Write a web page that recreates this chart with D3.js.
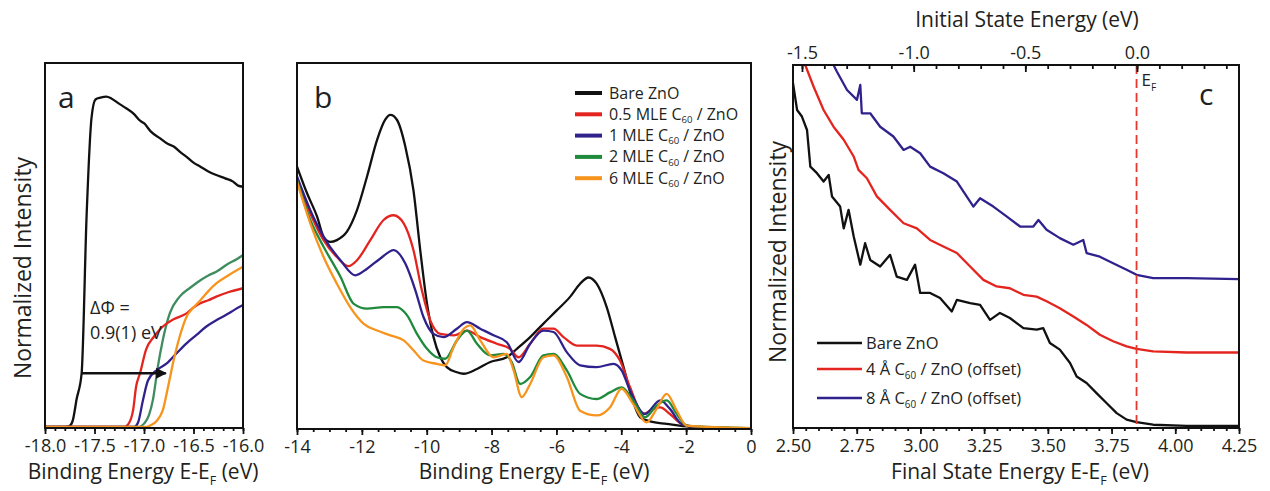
<!DOCTYPE html>
<html>
<head>
<meta charset="utf-8">
<script src="https://cdn.jsdelivr.net/npm/d3@7"></script>
<style>
  body { margin: 0; background: #fff; }
  text { font-family: "Open Sans", "Noto Sans", sans-serif; fill: #231f20; }
</style>
</head>
<body>
<svg id="chart"></svg>
<script>
// Overall size
const width = 1270;
const height = 491;

// ---------- data: panel a (secondary electron cutoff) ----------
const aBare = [[-18, 0.003], [-17.8, 0.003], [-17.75, 0.006], [-17.72, 0.02], [-17.68, 0.08], [-17.63, 0.15],
  [-17.58, 0.58], [-17.53, 0.85], [-17.49, 0.9], [-17.44, 0.905], [-17.38, 0.908], [-17.33, 0.903],
  [-17.26, 0.89], [-17.18, 0.876], [-17.1, 0.86], [-17.04, 0.842], [-17.0, 0.835], [-16.93, 0.812],
  [-16.84, 0.794], [-16.77, 0.78], [-16.7, 0.771], [-16.63, 0.755], [-16.57, 0.743], [-16.5, 0.727],
  [-16.43, 0.716], [-16.35, 0.703], [-16.27, 0.693], [-16.18, 0.684], [-16.1, 0.675], [-16.05, 0.664], [-16.0, 0.661]];
const aRed = [[-18, 0.003], [-17.2, 0.003], [-17.16, 0.01], [-17.11, 0.049], [-17.08, 0.113], [-17.04, 0.15],
  [-16.98, 0.214], [-16.9, 0.25], [-16.81, 0.278], [-16.7, 0.298], [-16.57, 0.314], [-16.5, 0.33],
  [-16.43, 0.342], [-16.35, 0.35], [-16.27, 0.36], [-16.15, 0.372], [-16.0, 0.383]];
const aBlue = [[-18, 0.003], [-17.1, 0.003], [-17.06, 0.015], [-17.01, 0.077], [-16.96, 0.13], [-16.87, 0.159],
  [-16.77, 0.177], [-16.67, 0.205], [-16.57, 0.232], [-16.47, 0.255], [-16.37, 0.278], [-16.27, 0.295],
  [-16.17, 0.31], [-16.08, 0.325], [-16.0, 0.337]];
const aGreen = [[-18, 0.003], [-17.05, 0.003], [-17.0, 0.012], [-16.95, 0.035], [-16.91, 0.077], [-16.86, 0.168],
  [-16.81, 0.241], [-16.74, 0.314], [-16.64, 0.36], [-16.53, 0.385], [-16.43, 0.405], [-16.35, 0.418],
  [-16.27, 0.428], [-16.15, 0.45], [-16.06, 0.463], [-16.0, 0.474]];
const aOrange = [[-18, 0.003], [-16.98, 0.003], [-16.93, 0.008], [-16.87, 0.02], [-16.81, 0.049], [-16.75, 0.122],
  [-16.7, 0.186], [-16.64, 0.25], [-16.57, 0.305], [-16.5, 0.33], [-16.43, 0.35], [-16.35, 0.375],
  [-16.27, 0.396], [-16.15, 0.418], [-16.0, 0.442]];

// ---------- data: panel b (valence band spectra) ----------
const bBare = [[-14, 0.717], [-13.69, 0.644], [-13.38, 0.58], [-13.18, 0.525], [-12.97, 0.511], [-12.77, 0.516],
  [-12.46, 0.539], [-12.15, 0.598], [-11.84, 0.69], [-11.53, 0.79], [-11.28, 0.845], [-11.12, 0.858],
  [-10.92, 0.845], [-10.66, 0.772], [-10.41, 0.653], [-10.2, 0.489], [-9.99, 0.342], [-9.79, 0.251],
  [-9.58, 0.196], [-9.38, 0.169], [-9.07, 0.155], [-8.86, 0.151], [-8.45, 0.164], [-8.04, 0.183],
  [-7.53, 0.196], [-7.22, 0.219], [-6.81, 0.251], [-6.4, 0.288], [-5.99, 0.324], [-5.58, 0.361],
  [-5.27, 0.397], [-5.01, 0.414], [-4.76, 0.397], [-4.45, 0.333], [-4.19, 0.251], [-3.93, 0.169],
  [-3.68, 0.087], [-3.42, 0.032], [-3.11, 0.021], [-2.6, 0.014], [-1.88, 0.006], [0, 0.002]];
const bHalf = [[-14, 0.68], [-13.59, 0.589], [-13.18, 0.516], [-12.77, 0.47], [-12.41, 0.445], [-12.15, 0.461],
  [-11.74, 0.516], [-11.33, 0.571], [-11.02, 0.584], [-10.71, 0.562], [-10.41, 0.489], [-10.15, 0.379],
  [-9.89, 0.297], [-9.58, 0.26], [-9.17, 0.256], [-8.76, 0.269], [-8.35, 0.251], [-7.84, 0.233],
  [-7.43, 0.219], [-7.17, 0.196], [-6.81, 0.233], [-6.4, 0.274], [-6.09, 0.274], [-5.78, 0.251],
  [-5.37, 0.228], [-4.76, 0.228], [-4.35, 0.219], [-4.04, 0.187], [-3.73, 0.114], [-3.32, 0.041],
  [-3.01, 0.055], [-2.8, 0.059], [-2.5, 0.041], [-2.14, 0.014], [-1.67, 0.005], [0, 0.002]];
const bOne = [[-14, 0.69], [-13.59, 0.598], [-13.18, 0.525], [-12.66, 0.461], [-12.2, 0.42], [-11.84, 0.438],
  [-11.43, 0.466], [-11.02, 0.489], [-10.66, 0.452], [-10.35, 0.379], [-10.1, 0.306], [-9.79, 0.26],
  [-9.48, 0.251], [-9.07, 0.274], [-8.76, 0.292], [-8.35, 0.274], [-7.94, 0.256], [-7.53, 0.237],
  [-7.17, 0.183], [-6.81, 0.233], [-6.4, 0.269], [-6.09, 0.265], [-5.68, 0.21], [-5.27, 0.174],
  [-4.76, 0.169], [-4.24, 0.178], [-3.99, 0.16], [-3.73, 0.105], [-3.27, 0.041], [-2.8, 0.078],
  [-2.5, 0.055], [-2.14, 0.014], [-1.67, 0.005], [0, 0.002]];
const bTwo = [[-14, 0.68], [-13.59, 0.571], [-13.18, 0.498], [-12.66, 0.416], [-12.25, 0.342], [-11.84, 0.329],
  [-11.33, 0.333], [-10.92, 0.333], [-10.61, 0.311], [-10.3, 0.26], [-9.99, 0.219], [-9.69, 0.196],
  [-9.43, 0.192], [-9.07, 0.242], [-8.76, 0.269], [-8.45, 0.233], [-8.04, 0.201], [-7.63, 0.205],
  [-7.38, 0.183], [-7.12, 0.123], [-6.81, 0.142], [-6.4, 0.201], [-6.09, 0.205], [-5.68, 0.16],
  [-5.27, 0.096], [-4.76, 0.082], [-4.35, 0.1], [-3.99, 0.114], [-3.63, 0.078], [-3.27, 0.032],
  [-2.91, 0.064], [-2.6, 0.078], [-2.29, 0.041], [-1.98, 0.009], [0, 0.002]];
const bSix = [[-14, 0.676], [-13.59, 0.562], [-13.18, 0.47], [-12.77, 0.397], [-12.36, 0.333], [-11.95, 0.288],
  [-11.53, 0.269], [-11.12, 0.256], [-10.71, 0.242], [-10.41, 0.215], [-10.1, 0.187], [-9.69, 0.178],
  [-9.43, 0.174], [-9.17, 0.224], [-8.86, 0.274], [-8.66, 0.283], [-8.35, 0.242], [-7.94, 0.196],
  [-7.53, 0.205], [-7.32, 0.16], [-7.07, 0.087], [-6.81, 0.123], [-6.4, 0.196], [-6.09, 0.201],
  [-5.68, 0.142], [-5.27, 0.05], [-4.76, 0.037], [-4.35, 0.059], [-3.99, 0.11], [-3.63, 0.068],
  [-3.22, 0.018], [-2.91, 0.055], [-2.6, 0.096], [-2.29, 0.05], [-1.98, 0.009], [0, 0.002]];
const bLabels = ["Bare ZnO", "0.5 MLE C", "1 MLE C", "2 MLE C", "6 MLE C"];

// ---------- data: panel c (2PPE near E_F) ----------
const cBare = [[2.5, 0.95], [2.516, 0.876], [2.535, 0.858], [2.555, 0.821], [2.568, 0.72], [2.594, 0.702],
  [2.62, 0.679], [2.64, 0.697], [2.653, 0.638], [2.685, 0.61], [2.699, 0.55], [2.718, 0.601],
  [2.738, 0.528], [2.764, 0.45], [2.783, 0.509], [2.803, 0.463], [2.842, 0.445], [2.881, 0.477],
  [2.907, 0.417], [2.947, 0.408], [2.979, 0.45], [2.999, 0.372], [3.038, 0.372], [3.077, 0.358],
  [3.123, 0.321], [3.143, 0.353], [3.195, 0.344], [3.234, 0.339], [3.273, 0.298], [3.312, 0.317],
  [3.351, 0.303], [3.404, 0.275], [3.456, 0.271], [3.482, 0.275], [3.508, 0.234], [3.547, 0.216],
  [3.587, 0.179], [3.613, 0.142], [3.652, 0.124], [3.691, 0.096], [3.73, 0.069], [3.77, 0.041],
  [3.809, 0.023], [3.848, 0.016], [3.913, 0.009], [4.044, 0.006], [4.25, 0.006]];
const cFour = [[2.54, 1.02], [2.548, 1.0], [2.581, 0.94], [2.62, 0.876], [2.659, 0.83], [2.699, 0.794],
  [2.738, 0.748], [2.757, 0.711], [2.79, 0.688], [2.829, 0.638], [2.881, 0.601], [2.934, 0.564],
  [2.986, 0.55], [3.038, 0.518], [3.09, 0.5], [3.143, 0.482], [3.195, 0.445], [3.247, 0.408],
  [3.299, 0.39], [3.351, 0.385], [3.404, 0.367], [3.456, 0.362], [3.495, 0.349], [3.547, 0.33],
  [3.6, 0.307], [3.652, 0.284], [3.704, 0.257], [3.756, 0.239], [3.809, 0.225], [3.848, 0.218],
  [3.913, 0.211], [4.044, 0.208], [4.25, 0.208]];
const cEight = [[2.655, 1.01], [2.659, 1.0], [2.672, 0.982], [2.712, 0.931], [2.751, 0.904], [2.764, 0.945],
  [2.77, 0.867], [2.803, 0.867], [2.842, 0.83], [2.894, 0.803], [2.934, 0.766], [2.96, 0.775],
  [2.999, 0.757], [3.038, 0.72], [3.09, 0.702], [3.143, 0.679], [3.208, 0.61], [3.234, 0.633],
  [3.286, 0.61], [3.338, 0.583], [3.391, 0.555], [3.443, 0.555], [3.463, 0.573], [3.495, 0.546],
  [3.547, 0.523], [3.6, 0.505], [3.639, 0.518], [3.652, 0.482], [3.704, 0.472], [3.756, 0.454],
  [3.809, 0.436], [3.848, 0.422], [3.913, 0.413], [4.044, 0.413], [4.25, 0.41]];
const cLabels = ["Bare ZnO", "4 Å C", "8 Å C"];
const fermiFinal = 3.848;

// colours
const black = "#111111", red = "#e4251f", navy = "#30228c", green = "#1f8a3b", greenA = "#3f8c5e", orange = "#f7941d";

const svg = d3.select("#chart").attr("width", width).attr("height", height);
const lineW = 2.3;

// text with a subscript part, e.g. ["E-E", "F", " (eV)"]
function subText(g, parts, x, y, size, anchor, drop) {
  const k = drop || 0.28;
  const t = g.append("text").attr("x", x).attr("y", y)
    .attr("text-anchor", anchor || "start").style("font-size", size + "px");
  parts.forEach((p, i) => {
    const s = t.append("tspan").text(p);
    if (i % 2 === 1) s.attr("dy", size * k).style("font-size", (size * 0.6) + "px");
    else if (i > 0) s.attr("dy", -size * k);
  });
  return t;
}

function ticks(g, scale, vals, size, where, fmt) {
  const ax = where === "top" ? d3.axisTop(scale) : d3.axisBottom(scale);
  ax.tickValues(vals).tickSize(size).tickSizeOuter(0).tickPadding(5)
    .tickFormat(fmt || "");
  const a = g.append("g").call(ax);
  a.select(".domain").remove();
  a.selectAll("line").attr("stroke", black).attr("stroke-width", 1.8);
  a.selectAll("text").style("font-size", "18px").style("font-family", null).attr("fill", "#231f20");
  return a;
}

function frame(x0, x1, y0, y1) {
  svg.append("rect").attr("x", x0).attr("y", y0).attr("width", x1 - x0).attr("height", y1 - y0)
    .attr("fill", "none").attr("stroke", black).attr("stroke-width", 2);
}

function clip(id, x0, x1, y0, y1) {
  svg.append("clipPath").attr("id", id).append("rect")
    .attr("x", x0).attr("y", y0).attr("width", x1 - x0).attr("height", y1 - y0);
}

function range(a, b, step) {
  const n = Math.round((b - a) / step);
  return d3.range(n + 1).map((i) => +(a + i * step).toFixed(3));
}

// ================= Panel a =================
{
  const L = 45, R = 243, T = 63, B = 428;
  const x = d3.scaleLinear().domain([-18, -16]).range([L, R]);
  const y = d3.scaleLinear().domain([0, 1]).range([B, T]);
  clip("clipA", L, R, T, B);
  const line = d3.line().x((d) => x(d[0])).y((d) => y(d[1])).curve(d3.curveMonotoneX);
  const g = svg.append("g").attr("clip-path", "url(#clipA)");
  [[aBare, black], [aGreen, greenA], [aRed, red], [aBlue, navy], [aOrange, orange]].forEach(([d, c]) => {
    g.append("path").datum(d).attr("d", line).attr("fill", "none").attr("stroke", c)
      .attr("stroke-width", lineW).attr("stroke-linejoin", "round");
  });

  // arrow for the work function shift
  svg.append("defs").append("marker").attr("id", "arrowA").attr("viewBox", "0 0 10 10")
    .attr("refX", 9).attr("refY", 5).attr("markerWidth", 5).attr("markerHeight", 4.5)
    .attr("orient", "auto").attr("markerUnits", "strokeWidth")
    .append("path").attr("d", "M0,0 L10,5 L0,10 Z").attr("fill", black);
  svg.append("line").attr("x1", x(-17.63)).attr("x2", x(-16.78)).attr("y1", y(0.15)).attr("y2", y(0.15))
    .attr("stroke", black).attr("stroke-width", 2.4).attr("marker-end", "url(#arrowA)");
  svg.append("text").attr("x", 90).attr("y", 314).style("font-size", "18px").text("ΔΦ =");
  svg.append("text").attr("x", 90).attr("y", 339).style("font-size", "18px").text("0.9(1) eV");

  frame(L, R, T, B);
  const ax = svg.append("g").attr("transform", `translate(0,${B})`);
  ticks(ax, x, range(-18, -16, 0.1), 3, "bottom");
  ticks(ax, x, range(-18, -16, 0.5), 6, "bottom", (d) => d.toFixed(1));

  svg.append("text").attr("x", 58).attr("y", 108).style("font-size", "30px").text("a");
  subText(svg, ["Binding Energy E-E", "F", " (eV)"], 143, 479, 21, "middle");
  svg.append("text").attr("transform", "translate(31,268) rotate(-90)").attr("text-anchor", "middle")
    .style("font-size", "23px").text("Normalized Intensity");
}

// ================= Panel b =================
{
  const L = 297, R = 751, T = 63, B = 429;
  const x = d3.scaleLinear().domain([-14, 0]).range([L, R]);
  const y = d3.scaleLinear().domain([0, 1]).range([B, T]);
  clip("clipB", L, R, T, B);
  const line = d3.line().x((d) => x(d[0])).y((d) => y(d[1])).curve(d3.curveMonotoneX);
  const g = svg.append("g").attr("clip-path", "url(#clipB)");
  const series = [[bBare, black], [bHalf, red], [bOne, navy], [bTwo, green], [bSix, orange]];
  series.forEach(([d, c]) => {
    g.append("path").datum(d).attr("d", line).attr("fill", "none").attr("stroke", c)
      .attr("stroke-width", lineW).attr("stroke-linejoin", "round");
  });

  frame(L, R, T, B);
  const ax = svg.append("g").attr("transform", `translate(0,${B})`);
  ticks(ax, x, range(-14, 0, 0.5), 3, "bottom");
  ticks(ax, x, range(-14, 0, 2), 6, "bottom", (d) => d3.format("d")(d).replace("−", "-"));

  // legend
  const lg = svg.append("g");
  bLabels.forEach((lab, i) => {
    const yy = 93 + i * 21.3;
    lg.append("line").attr("x1", 575).attr("x2", 602).attr("y1", yy).attr("y2", yy)
      .attr("stroke", series[i][1]).attr("stroke-width", 4);
    if (i === 0) subText(lg, [lab], 609, yy + 5.5, 16);
    else subText(lg, [lab, "60", " / ZnO"], 609, yy + 5.5, 16, "start", 0.2);
  });

  svg.append("text").attr("x", 314).attr("y", 108).style("font-size", "30px").text("b");
  subText(svg, ["Binding Energy E-E", "F", " (eV)"], 534, 479, 21, "middle");
}

// ================= Panel c =================
{
  const L = 793, R = 1239, T = 65, B = 428;
  const x = d3.scaleLinear().domain([2.5, 4.25]).range([L, R]);
  // initial state energy axis on top
  const xTop = d3.scaleLinear().domain([-1.5, 0]).range([802, 1137]);
  const y = d3.scaleLinear().domain([0, 1]).range([B, T]);
  clip("clipC", L, R, T, B);
  const line = d3.line().x((d) => x(d[0])).y((d) => y(d[1]));
  const g = svg.append("g").attr("clip-path", "url(#clipC)");
  const series = [[cBare, black], [cFour, red], [cEight, navy]];
  series.forEach(([d, c]) => {
    g.append("path").datum(d).attr("d", line).attr("fill", "none").attr("stroke", c)
      .attr("stroke-width", lineW).attr("stroke-linejoin", "round");
  });

  // Fermi level marker
  svg.append("line").attr("x1", x(fermiFinal)).attr("x2", x(fermiFinal)).attr("y1", T).attr("y2", B)
    .attr("stroke", "#e5392f").attr("stroke-width", 1.8).attr("stroke-dasharray", "9,5");
  subText(svg, ["E", "F"], x(fermiFinal) + 5, 86, 17).attr("fill", "#e5574f");

  frame(L, R, T, B);
  const ax = svg.append("g").attr("transform", `translate(0,${B})`);
  ticks(ax, x, range(2.5, 4.25, 0.05), 3, "bottom");
  ticks(ax, x, range(2.5, 4.25, 0.25), 6, "bottom", (d) => d.toFixed(2));

  const topVals = range(-1.5, 0.4, 0.1);
  const at = svg.append("g").attr("transform", `translate(0,${T})`);
  ticks(at, xTop, topVals, -4, "top");
  const major = ticks(at, xTop, range(-1.5, 0, 0.5), -7, "top", (d) => d.toFixed(1).replace("-0.0", "0.0"));
  major.selectAll("text").attr("y", -6);

  // legend
  const lg = svg.append("g");
  const rows = [343, 369, 398];
  cLabels.forEach((lab, i) => {
    lg.append("line").attr("x1", 817).attr("x2", 862).attr("y1", rows[i]).attr("y2", rows[i])
      .attr("stroke", series[i][1]).attr("stroke-width", 2.5);
    if (i === 0) subText(lg, [lab], 866, rows[i] + 6, 16.5);
    else subText(lg, [lab, "60", "  / ZnO (offset)"], 866, rows[i] + 6, 16.5, "start", 0.22);
  });

  svg.append("text").attr("x", 1199).attr("y", 105).style("font-size", "30px").text("c");
  subText(svg, ["Final State Energy E-E", "F", " (eV)"], 1020, 479, 21, "middle");
  svg.append("text").attr("x", 1027).attr("y", 27).attr("text-anchor", "middle")
    .style("font-size", "21px").text("Initial State Energy (eV)");
  svg.append("text").attr("transform", "translate(786,252) rotate(-90)").attr("text-anchor", "middle")
    .style("font-size", "23px").text("Normalized Intensity");
}
</script>
</body>
</html>
